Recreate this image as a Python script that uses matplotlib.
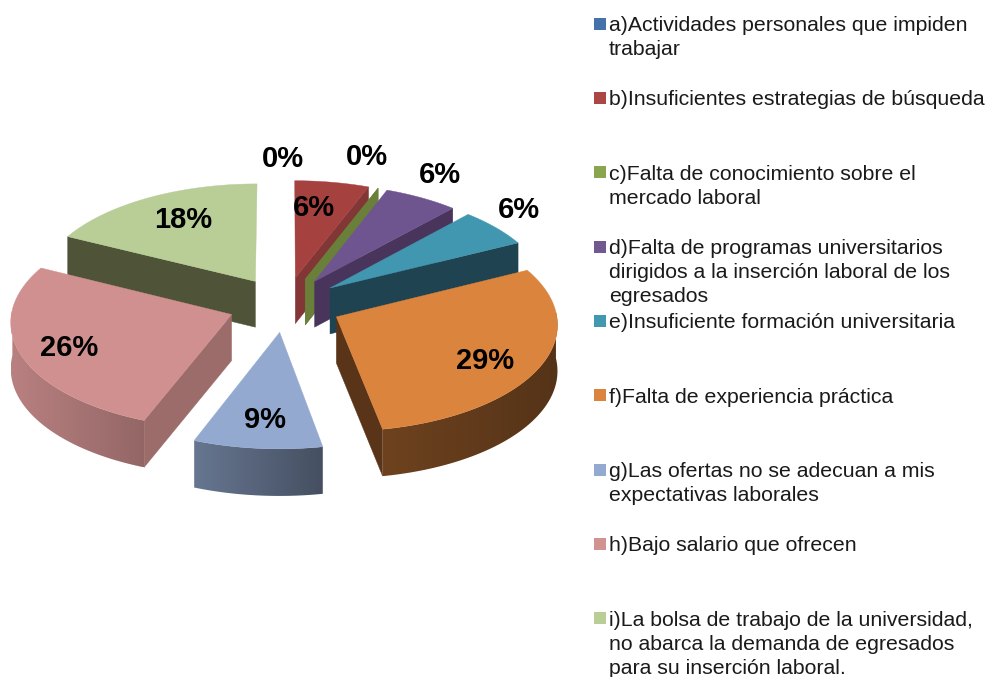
import numpy as np
import matplotlib
matplotlib.use('Agg')
import matplotlib.pyplot as plt
from matplotlib.patches import Rectangle, Polygon

plt.rcParams['font.family'] = ['Liberation Sans', 'DejaVu Sans']

categories = [
    'a)Actividades personales que impiden\ntrabajar',
    'b)Insuficientes estrategias de búsqueda',
    'c)Falta de conocimiento sobre el\nmercado laboral',
    'd)Falta de programas universitarios\ndirigidos a la inserción laboral de los\negresados',
    'e)Insuficiente formación universitaria',
    'f)Falta de experiencia práctica',
    'g)Las ofertas no se adecuan a mis\nexpectativas laborales',
    'h)Bajo salario que ofrecen',
    'i)La bolsa de trabajo de la universidad,\nno abarca la demanda de egresados\npara su inserción laboral.',
]
values = [0, 5.88, 0, 5.88, 5.89, 29.41, 8.82, 26.47, 17.65]

# colours
top_colors = ['#4572a7', '#a5423f', '#89a54e', '#6f5590', '#4197b0', '#db843d', '#93a9cf', '#d09090', '#b9cd96']
legend_colors = ['#4572a7', '#aa4643', '#89a54e', '#71588f', '#4198af', '#db843d', '#93a9cf', '#d19392', '#b9cd96']
face_colors = ['#3a5f8a', '#823636', '#6a7f3a', '#49355c', '#1f4350', '#5a3418', '#66778f', '#9c6c6a', '#4f5439']
rim_left = [0.6, 0.7, 0.7, 0.7, 0.7, 0.5, 0.7, 0.89, 0.6]
rim_right = [0.5, 0.6, 0.6, 0.6, 0.6, 0.39, 0.47, 0.71, 0.5]

# where things go, in pixels of the picture
label_xy = [(283, 159), (314, 208), (367, 157), (440, 175), (519, 210), (485, 361), (265, 420), (69, 348), (183, 220)]
legend_y = [31, 105, 180, 254, 328, 403, 477, 551, 626]
square_y = [18, 92, 166, 241, 315, 389, 464, 538, 612]

cx, cy = 285, 304.5
ax_r, ay_r = 219, 106
persp = 0.06
depth = 46
explode = 0.26


def project(x, y, low=False):
    w = 1 + persp * y
    sx = cx + ax_r * x / w
    sy = cy - ay_r * y / w
    if low:
        sy = sy + depth / w ** 0.3
    return sx, sy


def shade(color, f):
    return np.array(matplotlib.colors.to_rgb(color)) * f


fig = plt.figure(figsize=(9.88, 6.77), dpi=100)
ax = fig.add_axes([0, 0, 1, 1])

edges = np.cumsum([0] + values) / sum(values) * 360
mids = (edges[:-1] + edges[1:]) / 2

# far slices first
order = sorted(range(len(values)), key=lambda i: -np.cos(np.radians(mids[i])))

z = 2
for i in order:
    t0, t1 = edges[i], edges[i + 1]
    mid = np.radians(mids[i])
    ox, oy = explode * np.sin(mid), explode * np.cos(mid)
    ang = np.radians(np.linspace(t0, t1, max(2, int(t1 - t0) + 2)))
    rx = ox + np.sin(ang)
    ry = oy + np.cos(ang)

    # cut faces
    for t in (t0, t1):
        start_side = t == t0 and t0 != t1
        s = np.sin(np.radians(t))
        if (start_side and s < 0) or (not start_side and s > 0):
            ex, ey = ox + s, oy + np.cos(np.radians(t))
            pts = [project(ox, oy), project(ex, ey), project(ex, ey, True), project(ox, oy, True)]
            xs, ys = zip(*pts)
            ax.fill(xs, ys, color=face_colors[i], lw=0.3, zorder=z)

    # outer wall, horizontal gradient clipped to its outline
    px, py = project(rx, ry)
    qx, qy = project(rx, ry, True)
    vis = np.cos(ang) < 0.05
    if t1 > t0 and vis.sum() > 1:
        wall = np.c_[np.r_[px[vis], qx[vis][::-1]], np.r_[py[vis], qy[vis][::-1]]]
        left, right = wall[:, 0].min(), wall[:, 0].max()
        fr = np.linspace(0, 1, 64)[:, None]
        grad = shade(top_colors[i], 1)[None, :] * (rim_left[i] + (rim_right[i] - rim_left[i]) * fr)
        im = ax.imshow(grad[None, :, :], extent=(left, right, wall[:, 1].max(), wall[:, 1].min()),
                       aspect='auto', interpolation='bilinear', zorder=z)
        clip = Polygon(wall, closed=True, transform=ax.transData, fill=False, lw=0)
        ax.add_patch(clip)
        im.set_clip_path(clip)

    # top
    ax_x, ax_y = project(ox, oy)
    if t1 > t0:
        ax.fill(np.r_[ax_x, px], np.r_[ax_y, py], color=top_colors[i], lw=0.3, zorder=z)
    z += 1

# percent labels
for i in range(len(values)):
    ax.text(label_xy[i][0], label_xy[i][1], '%.0f%%' % values[i], fontsize=21, fontweight='bold',
            ha='center', va='center', color='black', zorder=50)

# legend
for i in range(len(categories)):
    ax.add_patch(Rectangle((594, square_y[i]), 11.5, 11.5, color=legend_colors[i], lw=0))
    lines = categories[i].split('\n')
    for n, line in enumerate(lines):
        ax.text(609, legend_y[i] + n * 24, line, fontsize=15.3, color='#1a1a1a', ha='left', va='baseline')

ax.set_xlim(0, 988)
ax.set_ylim(677, 0)
ax.axis('off')

fig.savefig('out.png', dpi=100)
